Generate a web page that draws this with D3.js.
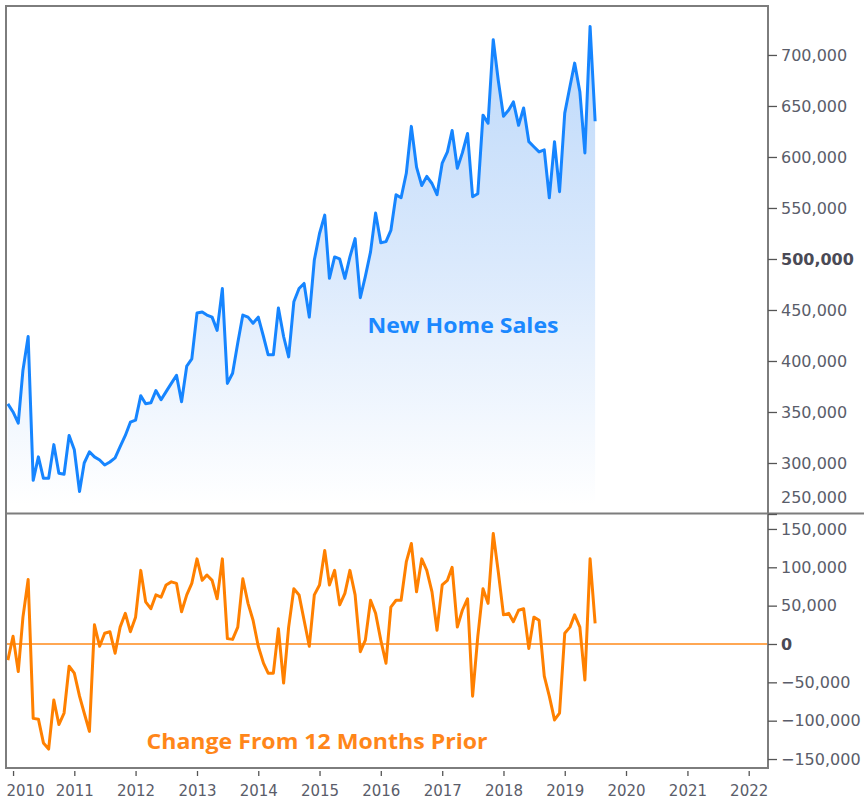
<!DOCTYPE html>
<html>
<head>
<meta charset="utf-8">
<script src="https://cdn.jsdelivr.net/npm/d3@7"></script>
<style>
  html, body { margin: 0; padding: 0; background: #ffffff; }
  svg { display: block; }
</style>
</head>
<body>
<svg id="chart" width="864" height="804"></svg>
<script>
// ---------------- DATA (thousands of homes, SAAR) ----------------
const startMonth = new Date(2009, 11, 1); // Dec 2009, monthly thereafter

const newHomeSales = [
  358,
  350, 339, 391, 424, 283, 306, 285, 285, 318, 290, 289, 327,
  313, 272, 300, 311, 306, 303, 298, 301, 305, 316, 327, 340,
  342, 366, 358, 359, 371, 362, 370, 378, 386, 360, 395, 402,
  447, 448, 445, 443, 430, 471, 378, 388, 418, 445, 443, 437,
  443, 424, 406, 406, 452, 424, 404, 458, 471, 476, 443, 499,
  525, 543, 481, 502, 500, 481, 502, 520, 462, 483, 507, 545,
  516, 517, 528, 563, 560, 584, 630, 590, 572, 581, 574, 563,
  594, 605, 626, 589, 604, 623, 561, 564, 641, 633, 715, 675,
  640, 646, 654, 631, 648, 615, 610, 605, 607, 560, 615, 566,
  643, 669, 692, 664, 604, 728, 635
];

const changeFrom12MonthsPrior = [
  -21,
  10, -36, 35, 84, -97, -98, -129, -137, -73, -105, -90, -29,
  -38, -68, -90, -114, 25, -3, 14, 16, -12, 22, 40, 16,
  35, 96, 55, 46, 64, 61, 77, 81, 79, 42, 64, 79,
  111, 83, 90, 83, 59, 111, 7, 6, 22, 85, 53, 31,
  -3, -25, -38, -38, 20, -51, 22, 72, 64, 31, -3, 64,
  77, 122, 77, 96, 51, 66, 96, 64, -10, 5, 57, 40,
  5, -25, 48, 57, 57, 107, 131, 68, 111, 96, 68, 18,
  77, 83, 100, 22, 44, 59, -68, 10, 72, 53, 144, 94,
  38, 40, 29, 44, 46, -6, 35, 31, -42, -68, -99, -90,
  14, 22, 38, 22, -47, 111, 27
];

const topTicks = [250, 300, 350, 400, 450, 500, 550, 600, 650, 700];
const bottomTicks = [-150, -100, -50, 0, 50, 100, 150];
const yearTicks = [2010, 2011, 2012, 2013, 2014, 2015, 2016, 2017, 2018, 2019, 2020, 2021, 2022];

const salesLabel = "New Home Sales";
const changeLabel = "Change From 12 Months Prior";

// ---------------- LAYOUT ----------------
const svg = d3.select("#chart");
const L = 6, R = 768, T = 6, MID = 513.5, B = 768;

const dates = newHomeSales.map((_, i) => d3.timeMonth.offset(startMonth, i));
const salesData = dates.map((d, i) => ({ date: d, v: newHomeSales[i] }));
const changeData = dates.map((d, i) => ({ date: d, v: changeFrom12MonthsPrior[i] }));

const x = d3.scaleTime()
  .domain([new Date(2009, 10, 20), new Date(2022, 3, 26)])
  .range([L, R]);

const yTop = d3.scaleLinear().domain([250, 748]).range([514, T]);
const yBot = d3.scaleLinear().domain([-161.7, 169.5]).range([B, 514]);

const fmt = d => d3.format(",")(d * 1000);
const axisColor = "#5a5d6a";
const tickFont = "'DejaVu Sans', Verdana, sans-serif";

// gradient for area
const defs = svg.append("defs");
const grad = defs.append("linearGradient")
  .attr("id", "salesGrad")
  .attr("gradientUnits", "userSpaceOnUse")
  .attr("x1", 0).attr("x2", 0).attr("y1", 20).attr("y2", 505);
grad.append("stop").attr("offset", 0).attr("stop-color", "#bcd8fa");
grad.append("stop").attr("offset", 0.5).attr("stop-color", "#dae9fc");
grad.append("stop").attr("offset", 1).attr("stop-color", "#ffffff");

// ---------------- TOP PANEL ----------------
const area = d3.area()
  .x(d => x(d.date))
  .y0(yTop(250))
  .y1(d => yTop(d.v))
  .curve(d3.curveLinear);

svg.append("path")
  .datum(salesData)
  .attr("d", area)
  .attr("fill", "url(#salesGrad)");

svg.append("path")
  .datum(salesData)
  .attr("d", d3.line().x(d => x(d.date)).y(d => yTop(d.v)))
  .attr("fill", "none")
  .attr("stroke", "#1685ff")
  .attr("stroke-width", 3)
  .attr("stroke-linejoin", "round");

svg.append("text")
  .attr("x", 463).attr("y", 333)
  .attr("text-anchor", "middle")
  .attr("font-family", "'Open Sans', 'DejaVu Sans', sans-serif")
  .attr("font-weight", "bold")
  .attr("font-size", 22)
  .attr("fill", "#1a88ff")
  .attr("textLength", 191)
  .attr("lengthAdjust", "spacingAndGlyphs")
  .text(salesLabel);

// ---------------- BOTTOM PANEL ----------------
svg.append("line")
  .attr("x1", L).attr("x2", R)
  .attr("y1", yBot(0)).attr("y2", yBot(0))
  .attr("stroke", "#ff8a1a")
  .attr("stroke-width", 1.6);

svg.append("path")
  .datum(changeData)
  .attr("d", d3.line().x(d => x(d.date)).y(d => yBot(d.v)))
  .attr("fill", "none")
  .attr("stroke", "#ff8000")
  .attr("stroke-width", 3)
  .attr("stroke-linejoin", "round");

svg.append("text")
  .attr("x", 317).attr("y", 749)
  .attr("text-anchor", "middle")
  .attr("font-family", "'Open Sans', 'DejaVu Sans', sans-serif")
  .attr("font-weight", "bold")
  .attr("font-size", 22)
  .attr("fill", "#ff8619")
  .attr("textLength", 341)
  .attr("lengthAdjust", "spacingAndGlyphs")
  .text(changeLabel);

// ---------------- FRAME ----------------
const frame = svg.append("g").attr("stroke", "#7d7d7d").attr("stroke-width", 2).attr("fill", "none");
frame.append("rect").attr("x", L).attr("y", T).attr("width", R - L).attr("height", B - T);
frame.append("line").attr("x1", L).attr("x2", 864).attr("y1", MID).attr("y2", MID);

// ---------------- AXES ----------------
const gTop = svg.append("g")
  .attr("transform", `translate(${R},0)`)
  .call(d3.axisRight(yTop).tickValues(topTicks).tickFormat(fmt).tickSize(9).tickPadding(4));
const gBot = svg.append("g")
  .attr("transform", `translate(${R},0)`)
  .call(d3.axisRight(yBot).tickValues(bottomTicks).tickFormat(fmt).tickSize(9).tickPadding(4));

[gTop, gBot].forEach(g => {
  g.select(".domain").remove();
  g.selectAll(".tick line").attr("stroke", "#555").attr("stroke-width", 1.3);
  g.selectAll(".tick text")
    .attr("fill", axisColor)
    .attr("font-family", tickFont)
    .attr("font-size", 16);
});
gTop.selectAll(".tick text").filter(d => d === 500).attr("font-weight", "bold").attr("fill", "#4a4a55");
gBot.selectAll(".tick text").filter(d => d === 0).attr("font-weight", "bold").attr("fill", "#4a4a55");
gTop.selectAll(".tick text").filter(d => d === 250).attr("dy", "-0.7em");

const gX = svg.append("g")
  .attr("transform", `translate(0,${B + 3})`)
  .call(d3.axisBottom(x)
    .tickValues(yearTicks.map(yr => new Date(yr, 0, 1)))
    .tickFormat(d3.timeFormat("%Y"))
    .tickSize(5).tickPadding(9));
gX.select(".domain").remove();
gX.selectAll(".tick line").attr("stroke", "#555").attr("stroke-width", 1.3);
gX.selectAll(".tick text")
  .attr("fill", axisColor)
  .attr("font-family", tickFont)
  .attr("font-size", 15);
// keep first label inside the frame
gX.selectAll(".tick text").each(function(d) {
  const bb = this.getBBox();
  const px = x(d);
  const left = px + bb.x;
  if (left < L) d3.select(this).attr("x", L - left);
});
</script>
</body>
</html>
